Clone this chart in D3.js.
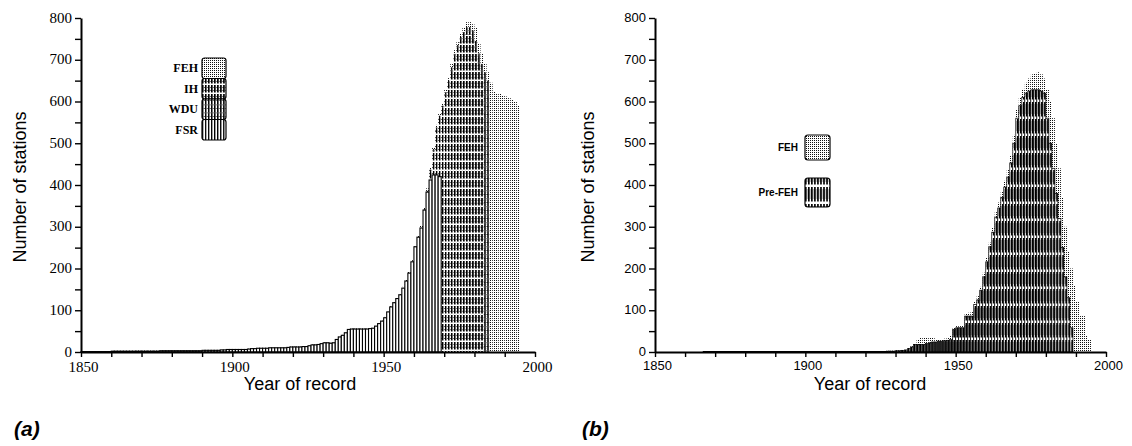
<!DOCTYPE html>
<html>
<head>
<meta charset="utf-8">
<script src="https://cdn.jsdelivr.net/npm/d3@7"></script>
<style>
  body { margin: 0; background: #fff; }
  svg { display: block; }
</style>
</head>
<body>
<svg id="fig" width="1132" height="446"></svg>
<script>
// ---------- Panel (a): stations with data in each year, by dataset ----------
const yearsA = d3.range(1850, 1995);

const fehA = [
  1,1,1,1,2,2,2,2,2,2,
  2,2,2,2,2,2,2,2,3,3,
  3,3,3,3,3,3,3,3,3,4,
  4,4,4,4,4,4,4,4,4,4,
  4,4,5,5,5,5,5,6,6,7,
  7,7,7,7,7,8,8,9,9,10,
  10,10,10,11,11,11,11,11,12,13,
  13,13,13,14,14,16,18,18,19,21,
  23,23,22,23,31,37,41,47,55,56,
  56,56,56,56,56,57,58,63,69,75,
  84,98,110,120,130,140,156,174,193,220,
  256,280,302,345,392,443,491,544,572,596,
  628,656,690,723,742,764,776,790,790,785,
  778,740,715,690,670,645,625,620,618,615,
  612,608,604,600,590
];

const wduA = [
  1,1,1,1,1,1,1,1,1,1,
  2,2,2,2,2,2,2,2,2,2,
  2,2,2,2,2,2,3,3,3,3,
  3,3,3,3,3,3,3,3,3,3,
  4,4,4,4,4,4,5,5,6,6,
  6,6,6,6,6,7,8,8,9,9,
  9,9,10,10,10,10,10,10,11,12,
  12,12,12,13,13,15,17,17,18,20,
  22,22,21,22,30,36,40,46,54,55,
  55,55,55,55,55,56,57,62,68,74,
  82,96,108,118,128,137,153,170,189,216,
  252,275,297,342,386,437,486,538,566,590,
  622,650,682,714,735,755,766,778,778,770,
  745,715,690,670,650,0,0,0,0,0,
  0,0,0,0,0
];

const ihA = [
  1,1,1,1,1,1,1,1,1,1,
  2,2,2,2,2,2,2,2,2,2,
  2,2,2,2,2,2,3,3,3,3,
  3,3,3,3,3,3,3,3,3,3,
  4,4,4,4,4,4,5,5,6,6,
  6,6,6,6,6,7,8,8,9,9,
  9,9,10,10,10,10,10,10,11,12,
  12,12,12,13,13,15,17,17,18,20,
  22,22,21,22,30,36,40,46,54,55,
  55,55,55,55,55,56,57,62,68,74,
  82,96,108,118,128,137,153,170,189,216,
  252,275,297,340,383,430,480,530,560,585,
  615,640,670,700,720,740,750,760,760,750,
  720,690,660,0,0,0,0,0,0,0,
  0,0,0,0,0
];

const fsrA = [
  1,1,1,1,1,1,1,1,1,1,
  2,2,2,2,2,2,2,2,2,2,
  2,2,2,2,2,2,3,3,3,3,
  3,3,3,3,3,3,3,3,3,3,
  4,4,4,4,4,4,5,5,6,6,
  6,6,6,6,6,7,8,8,9,9,
  9,9,10,10,10,10,10,10,11,12,
  12,12,12,13,13,15,17,17,18,20,
  22,22,21,22,30,36,40,46,54,55,
  55,55,55,55,55,56,57,62,68,74,
  82,96,108,118,128,137,153,170,189,216,
  252,275,297,340,383,412,424,424,420,0,
  0,0,0,0,0,0,0,0,0,0,
  0,0,0,0,0,0,0,0,0,0,
  0,0,0,0,0
];

// ---------- Panel (b): FEH versus pre-FEH records ----------
const yearsB = d3.range(1850, 1995);

const fehB = [
  1,1,1,1,1,1,1,1,1,1,
  1,1,1,1,1,1,1,1,1,1,
  1,1,1,1,1,1,1,1,1,1,
  1,1,1,1,1,1,1,1,1,1,
  1,1,1,1,1,1,1,1,1,1,
  1,1,1,1,1,1,1,1,1,1,
  1,1,1,1,1,1,1,1,1,1,
  1,1,1,1,2,2,2,3,3,3,
  4,4,5,6,10,14,20,30,34,34,
  34,34,34,30,30,30,32,34,40,58,
  62,62,64,92,94,96,122,134,156,190,
  226,262,298,335,358,384,410,436,470,520,
  580,610,630,645,655,665,668,670,665,655,
  630,600,560,500,440,370,300,240,200,160,
  120,86,86,40,30
];

const preB = [
  0,0,0,0,0,0,0,0,0,0,
  0,0,0,0,0,0,1,1,1,1,
  1,1,1,1,1,1,1,1,1,1,
  1,1,1,1,1,1,1,1,1,1,
  1,1,1,1,1,1,1,1,1,1,
  1,1,1,1,1,1,1,1,1,1,
  1,1,1,1,1,1,1,1,1,1,
  1,1,1,1,1,1,1,2,2,2,
  3,3,4,5,8,12,18,18,18,18,
  20,22,24,24,26,26,27,28,30,54,
  58,58,58,86,86,86,114,125,148,180,
  216,252,287,323,345,370,395,419,453,500,
  560,590,610,620,625,628,628,628,625,620,
  560,500,440,380,320,250,180,130,58,0,
  0,0,0,0,0
];

// Axis ticks
const yTicks = d3.range(0, 801, 50);
const xTicks = d3.range(1850, 2001, 10);

// ---------- Drawing ----------
const svg = d3.select("#fig");
const defs = svg.append("defs");

const xA = d3.scaleLinear().domain([1850, 2000]).range([81, 535]);
const yA = d3.scaleLinear().domain([0, 800]).range([352, 18]);
const xB = d3.scaleLinear().domain([1850, 2000]).range([655, 1106]);
const yB = d3.scaleLinear().domain([0, 800]).range([352, 18]);

const bw = xA(1851) - xA(1850);

// fill textures
function pattern(id, w, h, build) {
  const p = defs.append("pattern")
    .attr("id", id)
    .attr("patternUnits", "userSpaceOnUse")
    .attr("width", w).attr("height", h);
  p.append("rect").attr("width", w).attr("height", h).attr("fill", "#fff");
  build(p);
}
pattern("dots", 2, 2, p => {
  p.append("rect").attr("width", 1).attr("height", 1).attr("fill", "#111");
});
pattern("ihPat", bw, 9, p => {
  p.append("rect").attr("x", 0).attr("y", 0).attr("width", 1.6).attr("height", 7.5).attr("fill", "#000");
  p.append("rect").attr("x", 2.2).attr("y", 2).attr("width", 0.8).attr("height", 1).attr("fill", "#444");
  p.append("rect").attr("x", 2.2).attr("y", 5).attr("width", 0.8).attr("height", 1).attr("fill", "#444");
});
pattern("wduPat", bw, 8, p => {
  p.append("rect").attr("x", 0).attr("y", 0).attr("width", 1.4).attr("height", 8).attr("fill", "#000");
  p.append("rect").attr("x", 0).attr("y", 6.5).attr("width", bw).attr("height", 0.8).attr("fill", "#666");
  p.append("rect").attr("x", 2).attr("y", 2).attr("width", 1).attr("height", 1).attr("fill", "#555");
});
pattern("fsrPat", bw, 4, p => {
  p.append("rect").attr("x", 0).attr("y", 0).attr("width", 1.2).attr("height", 4).attr("fill", "#000");
});
pattern("preFehPat", bw, 17, p => {
  p.append("rect").attr("x", 0).attr("y", 0).attr("width", 1.5).attr("height", 14.5).attr("fill", "#000");
  p.append("rect").attr("x", 2.1).attr("y", 2).attr("width", 0.6).attr("height", 10).attr("fill", "#777");
});

function bars(g, years, values, x, y, fill, stroke, sw) {
  g.append("g").selectAll("rect")
    .data(years.map((yr, i) => ({ yr, v: values[i] })).filter(d => d.v > 0))
    .join("rect")
    .attr("x", d => x(d.yr))
    .attr("width", d => x(d.yr + 1) - x(d.yr))
    .attr("y", d => y(d.v))
    .attr("height", d => y(0) - y(d.v))
    .attr("fill", fill)
    .attr("stroke", stroke)
    .attr("stroke-width", sw);
}

function axes(g, x, y, tickFont, tickSize) {
  const ax = g.append("g")
    .attr("transform", `translate(0,${y(0)})`)
    .call(d3.axisBottom(x).tickValues(xTicks)
      .tickFormat(d => d % 50 === 0 ? d : "")
      .tickSize(5).tickSizeOuter(0).tickPadding(4));
  const ay = g.append("g")
    .attr("transform", `translate(${x(1850)},0)`)
    .call(d3.axisLeft(y).tickValues(yTicks)
      .tickFormat(d => d % 100 === 0 ? d : "")
      .tickSize(6).tickSizeOuter(0).tickPadding(3));
  [ax, ay].forEach(a => {
    a.select(".domain").attr("stroke", "#000").attr("stroke-width", 2);
    a.selectAll(".tick line").attr("stroke", "#000").attr("stroke-width", 1.4);
    a.selectAll("text").attr("fill", "#000")
      .attr("font-family", tickFont).attr("font-size", tickSize);
  });
  ax.selectAll("text").attr("dx", 2);
  ay.selectAll("text").attr("dy", "0.28em");
}

function titles(g, cx, xMid, label) {
  g.append("text")
    .attr("transform", `translate(${cx},187) rotate(-90)`)
    .attr("text-anchor", "middle")
    .attr("font-family", "Liberation Sans, Arial, sans-serif")
    .attr("font-size", 18)
    .text("Number of stations");
  g.append("text")
    .attr("x", xMid).attr("y", 390)
    .attr("text-anchor", "middle")
    .attr("font-family", "Liberation Sans, Arial, sans-serif")
    .attr("font-size", 18)
    .text("Year of record");
  g.append("text")
    .attr("x", cx - 12).attr("y", 436)
    .attr("font-family", "Liberation Sans, Arial, sans-serif")
    .attr("font-size", 21).attr("font-weight", "bold").attr("font-style", "italic")
    .text(label);
}

// Panel (a)
const gA = svg.append("g");
bars(gA, yearsA, fehA, xA, yA, "url(#dots)", "none", 0);
bars(gA, yearsA, wduA, xA, yA, "url(#wduPat)", "none", 0);
bars(gA, yearsA, ihA, xA, yA, "url(#ihPat)", "none", 0);
bars(gA, yearsA, fsrA, xA, yA, "#fff", "#000", 1.1);
axes(gA, xA, yA, "Liberation Serif, Times New Roman, serif", 15);
titles(gA, 26, 300, "(a)");

const legendA = [
  { name: "FEH", fill: "url(#dots)" },
  { name: "IH", fill: "url(#ihPat)" },
  { name: "WDU", fill: "url(#wduPat)" },
  { name: "FSR", fill: "url(#fsrPat)" }
];
const lgA = gA.append("g").attr("transform", "translate(202,58)");
lgA.selectAll("rect").data(legendA).join("rect")
  .attr("x", 0).attr("y", (d, i) => i * 20.5)
  .attr("width", 24).attr("height", 20.5).attr("rx", 2.5)
  .attr("fill", d => d.fill).attr("stroke", "#000").attr("stroke-width", 1.2);
lgA.selectAll("text").data(legendA).join("text")
  .attr("x", -4).attr("y", (d, i) => i * 20.5 + 10.25)
  .attr("dy", "0.35em").attr("text-anchor", "end")
  .attr("font-family", "Liberation Serif, Times New Roman, serif")
  .attr("font-size", 12).attr("font-weight", "bold")
  .text(d => d.name);

// Panel (b)
const gB = svg.append("g");
bars(gB, yearsB, fehB, xB, yB, "url(#dots)", "none", 0);
bars(gB, yearsB, preB, xB, yB, "url(#preFehPat)", "#000", 0.7);
axes(gB, xB, yB, "Liberation Sans, Arial, sans-serif", 13);
titles(gB, 594, 870, "(b)");

const legendB = [
  { name: "FEH", fill: "url(#dots)", y: 135 },
  { name: "Pre-FEH", fill: "url(#preFehPat)", y: 178 }
];
const lgB = gB.append("g");
lgB.selectAll("rect").data(legendB).join("rect")
  .attr("x", 805).attr("y", d => d.y)
  .attr("width", 25).attr("height", (d, i) => i ? 29 : 25).attr("rx", 3)
  .attr("fill", d => d.fill).attr("stroke", "#000").attr("stroke-width", 1.2);
lgB.selectAll("text").data(legendB).join("text")
  .attr("x", 798).attr("y", (d, i) => d.y + (i ? 14.5 : 12.5))
  .attr("dy", "0.35em").attr("text-anchor", "end")
  .attr("font-family", "Liberation Sans, Arial, sans-serif")
  .attr("font-size", 10).attr("font-weight", "bold")
  .text(d => d.name);
</script>
</body>
</html>
